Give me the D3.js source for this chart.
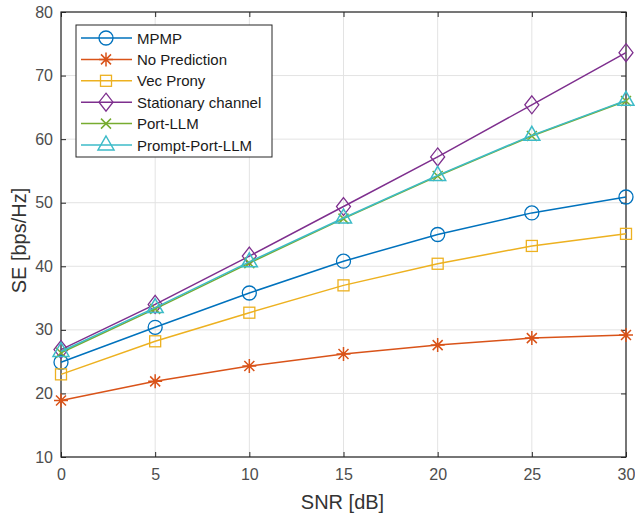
<!DOCTYPE html>
<html>
<head>
<meta charset="utf-8">
<script src="https://cdn.jsdelivr.net/npm/d3@7"></script>
<style>
  body { margin: 0; background: #fff; }
  svg { font-family: "Liberation Sans", Arial, sans-serif; }
</style>
</head>
<body>
<svg width="635" height="513"></svg>
<script>
// SNR points (dB)
let snr = [0, 5, 10, 15, 20, 25, 30];

// spectral efficiency per method
let mpmp       = [24.9, 30.4, 35.8, 40.8, 45.0, 48.4, 50.9];
let noPred     = [18.9, 21.9, 24.3, 26.2, 27.6, 28.7, 29.2];
let vecProny   = [23.0, 28.2, 32.7, 37.0, 40.4, 43.2, 45.1];
let stationary = [26.9, 34.0, 41.6, 49.4, 57.2, 65.4, 73.6];
let portLLM    = [26.4, 33.3, 40.5, 47.5, 54.2, 60.5, 66.0];
let promptLLM  = [26.6, 33.5, 40.7, 47.6, 54.3, 60.6, 66.1];

let names = ["MPMP", "No Prediction", "Vec Prony", "Stationary channel", "Port-LLM", "Prompt-Port-LLM"];
let colors = ["#0072BD", "#D95319", "#EDB120", "#7E2F8E", "#77AC30", "#3DBBC8"];
let markers = ["circle", "star", "square", "diamond", "cross", "triangle"];
let allSeries = [mpmp, noPred, vecProny, stationary, portLLM, promptLLM];

let xTicks = [0, 5, 10, 15, 20, 25, 30];
let yTicks = [10, 20, 30, 40, 50, 60, 70, 80];

var svg = d3.select("svg");
var margin = { left: 61, right: 9, top: 12, bottom: 56 };
var width = 635 - margin.left - margin.right;
var height = 513 - margin.top - margin.bottom;

var g = svg.append("g")
    .attr("transform", "translate(" + margin.left + "," + margin.top + ")");

let xScale = d3.scaleLinear().domain([0, 30]).range([0, width]);
let yScale = d3.scaleLinear().domain([10, 80]).range([height, 0]);

// grid
g.append("g").selectAll("line").data(xTicks).enter().append("line")
    .attr("x1", d => xScale(d)).attr("x2", d => xScale(d))
    .attr("y1", 0).attr("y2", height)
    .attr("stroke", "#e3e3e3").attr("stroke-width", 1);
g.append("g").selectAll("line").data(yTicks).enter().append("line")
    .attr("y1", d => yScale(d)).attr("y2", d => yScale(d))
    .attr("x1", 0).attr("x2", width)
    .attr("stroke", "#e3e3e3").attr("stroke-width", 1);

// axes with inward ticks
let xAxis = d3.axisBottom(xScale).tickValues(xTicks).tickSizeInner(-5).tickSizeOuter(0).tickPadding(12);
let yAxis = d3.axisLeft(yScale).tickValues(yTicks).tickSizeInner(-5).tickSizeOuter(0).tickPadding(8);

let xg = g.append("g").attr("transform", "translate(0," + height + ")").call(xAxis);
let yg = g.append("g").call(yAxis);
[xg, yg].forEach(function (a) {
    a.select(".domain").remove();
    a.selectAll("line").attr("stroke", "#262626");
    a.selectAll("text").attr("fill", "#4d4d4d").style("font-size", "16px");
});

// top / right ticks
g.append("g").call(d3.axisTop(xScale).tickValues(xTicks).tickSizeInner(-5).tickSizeOuter(0).tickFormat(""))
    .call(a => { a.select(".domain").remove(); a.selectAll("line").attr("stroke", "#262626"); });
g.append("g").attr("transform", "translate(" + width + ",0)")
    .call(d3.axisRight(yScale).tickValues(yTicks).tickSizeInner(-5).tickSizeOuter(0).tickFormat(""))
    .call(a => { a.select(".domain").remove(); a.selectAll("line").attr("stroke", "#262626"); });

// box
g.append("rect").attr("x", 0).attr("y", 0).attr("width", width).attr("height", height)
    .attr("fill", "none").attr("stroke", "#262626").attr("stroke-width", 1.2);

// axis labels
svg.append("text")
    .attr("x", margin.left + width / 2 - 1).attr("y", 509)
    .attr("text-anchor", "middle").attr("fill", "#333")
    .style("font-size", "20px").text("SNR [dB]");
svg.append("text")
    .attr("transform", "translate(26," + (margin.top + height / 2 + 6) + ") rotate(-90)")
    .attr("text-anchor", "middle").attr("fill", "#333")
    .style("font-size", "20px").text("SE [bps/Hz]");

function drawMarker(sel, type, color) {
    sel.each(function () {
        let m = d3.select(this);
        if (type == "circle") {
            m.append("circle").attr("r", 7).attr("fill", "none").attr("stroke", color).attr("stroke-width", 1.3);
        } else if (type == "square") {
            m.append("rect").attr("x", -5.5).attr("y", -5.5).attr("width", 11).attr("height", 11)
                .attr("fill", "none").attr("stroke", color).attr("stroke-width", 1.3);
        } else if (type == "diamond") {
            m.append("path").attr("d", "M0,-9L7,0L0,9L-7,0Z")
                .attr("fill", "none").attr("stroke", color).attr("stroke-width", 1.3);
        } else if (type == "triangle") {
            m.append("path").attr("d", "M0,-9L8,5L-8,5Z")
                .attr("fill", "none").attr("stroke", color).attr("stroke-width", 1.5);
        } else if (type == "cross") {
            m.append("path").attr("d", "M-5,-5L5,5M-5,5L5,-5")
                .attr("fill", "none").attr("stroke", color).attr("stroke-width", 1.5);
        } else if (type == "star") {
            m.append("path").attr("d", "M-7,0L7,0M0,-7L0,7M-5,-5L5,5M-5,5L5,-5")
                .attr("fill", "none").attr("stroke", color).attr("stroke-width", 1.5);
        }
    });
}

let line = d3.line()
    .x((d, i) => xScale(snr[i]))
    .y(d => yScale(d));

allSeries.forEach(function (vals, k) {
    let sg = g.append("g");
    sg.append("path").datum(vals).attr("d", line)
        .attr("fill", "none").attr("stroke", colors[k]).attr("stroke-width", 1.5);
    sg.selectAll(".mk").data(vals).enter().append("g")
        .attr("class", "mk")
        .attr("transform", (d, i) => "translate(" + xScale(snr[i]) + "," + yScale(d) + ")")
        .call(drawMarker, markers[k], colors[k]);
});

// legend
let legend = svg.append("g").attr("transform", "translate(76,25)");
legend.append("rect").attr("width", 196).attr("height", 132)
    .attr("fill", "#fff").attr("stroke", "#262626").attr("stroke-width", 1);
names.forEach(function (n, k) {
    let row = legend.append("g").attr("transform", "translate(0," + (13 + k * 21.4) + ")");
    row.append("line").attr("x1", 5).attr("x2", 56).attr("y1", 0).attr("y2", 0)
        .attr("stroke", colors[k]).attr("stroke-width", 1.5);
    row.append("g").attr("transform", "translate(30,0)").call(drawMarker, markers[k], colors[k]);
    row.append("text").attr("x", 61).attr("y", 5.5).attr("fill", "#1a1a1a")
        .style("font-size", "15px").text(n);
});
</script>
</body>
</html>
